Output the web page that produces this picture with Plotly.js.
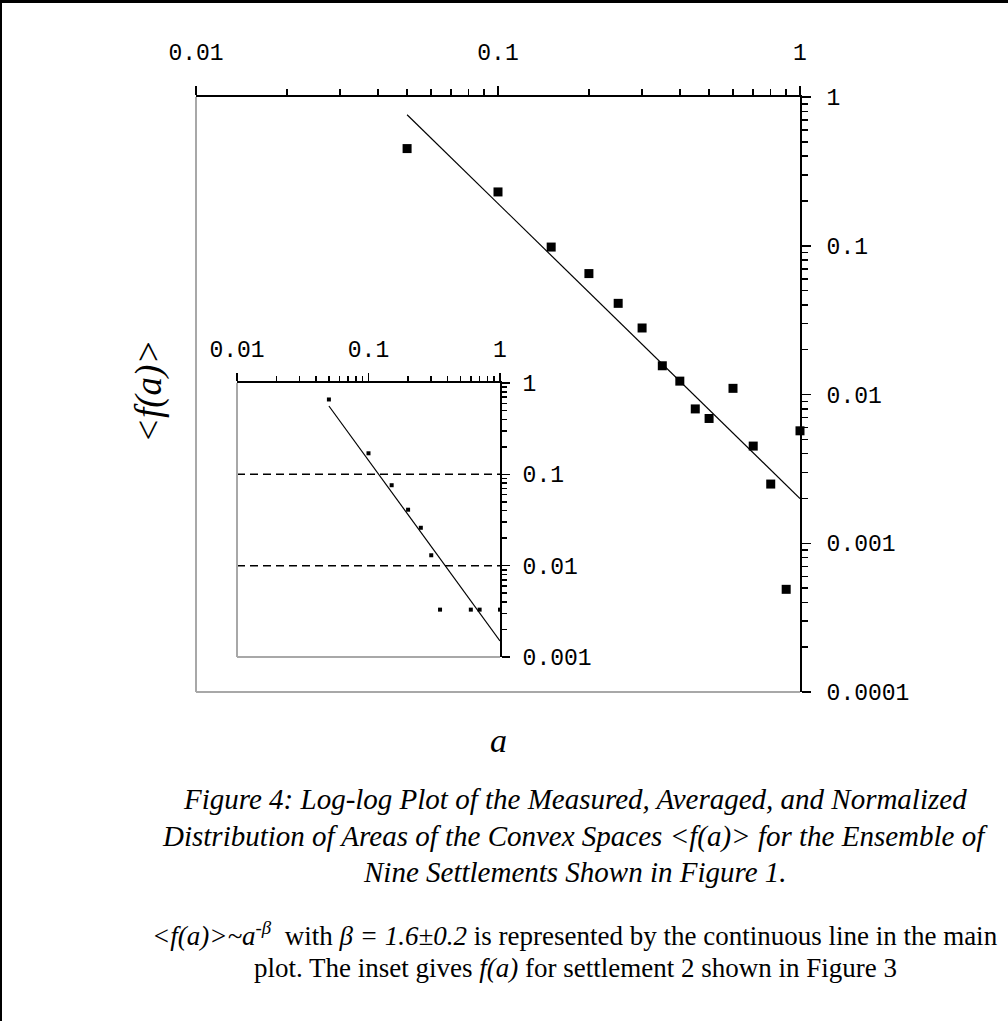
<!DOCTYPE html>
<html><head><meta charset="utf-8">
<script src="https://cdn.plot.ly/plotly-3.0.1.min.js"></script>
<style>
html,body{margin:0;padding:0;background:#fff;}
#wrap{position:relative;width:1008px;height:1021px;overflow:hidden;}
#chart{width:1008px;height:1021px;}
.bt{position:absolute;left:0;top:0;width:1008px;height:3px;background:#000;}
.bl{position:absolute;left:0;top:0;width:2px;height:1021px;background:#000;}
</style></head><body>
<div id="wrap"><div id="chart"></div><div class="bt"></div><div class="bl"></div></div>
<script>
// ---- data ----
const mainA = [0.05, 0.1, 0.15, 0.2, 0.25, 0.3, 0.35, 0.4, 0.45, 0.5, 0.6, 0.7, 0.8, 0.9, 1.0];
const mainF = [0.45, 0.23, 0.098, 0.065, 0.041, 0.028, 0.0156, 0.0123, 0.008, 0.0069, 0.011, 0.0045, 0.0025, 0.00049, 0.0057];
const fitA = [0.05, 1.0];
const fitF = [0.76, 0.002];
const insetA = [0.05, 0.1, 0.15, 0.2, 0.25, 0.3, 0.35, 0.6, 0.7, 1.0];
const insetF = [0.66, 0.17, 0.076, 0.041, 0.026, 0.013, 0.0033, 0.0033, 0.0033, 0.0033];
const insetFitA = [0.05, 1.0];
const insetFitF = [0.56, 0.0015];
const insetRefLevels = [0.1, 0.01];
const xTickVals = [0.01, 0.1, 1];
const xTickText = ['0.01', '0.1', '1'];
const yTickVals = [0.0001, 0.001, 0.01, 0.1, 1];
const yTickText = ['0.0001', '0.001', '0.01', '0.1', '1'];
const insetYTickVals = [0.001, 0.01, 0.1, 1];
const insetYTickText = ['0.001', '0.01', '0.1', '1'];
const xRangeA = [0.01, 1];

// ---- layout helpers ----
const W = 1008, H = 1021;
const px = v => v / W;
const py = v => 1 - v / H;
const tickFont = {family: 'Liberation Mono, DejaVu Sans Mono, monospace', size: 23, color: '#000'};
const serif = 'Liberation Serif, Times New Roman, serif';

function logAxis(extra) {
  return Object.assign({
    type: 'log', showgrid: false, zeroline: false, showline: true,
    linecolor: '#000', linewidth: 2, ticks: 'outside', ticklen: 9, tickwidth: 1.5,
    tickcolor: '#000', tickmode: 'array', tickfont: tickFont, fixedrange: true,
    minor: {ticks: 'outside', ticklen: 6, tickwidth: 1.5, tickcolor: '#000', dtick: 'D1', showgrid: false}
  }, extra);
}

const traces = [
  {x: fitA, y: fitF, mode: 'lines', line: {color: '#000', width: 1.2}, xaxis: 'x', yaxis: 'y', hoverinfo: 'skip'},
  {x: mainA, y: mainF, mode: 'markers', marker: {symbol: 'square', size: 9, color: '#000'}, xaxis: 'x', yaxis: 'y', cliponaxis: false},
  {x: insetFitA, y: insetFitF, mode: 'lines', line: {color: '#000', width: 1.2}, xaxis: 'x2', yaxis: 'y2'},
  {x: insetA, y: insetF, mode: 'markers', marker: {symbol: 'square', size: 4, color: '#000'}, xaxis: 'x2', yaxis: 'y2', cliponaxis: false}
];
insetRefLevels.forEach(lv => {
  traces.push({x: xRangeA, y: [lv, lv], mode: 'lines', line: {color: '#000', width: 1.5, dash: '8px,5px'}, xaxis: 'x2', yaxis: 'y2'});
});

const grayFrame = (xr, yr) => [
  {type: 'line', xref: xr, yref: yr, x0: 0, x1: 0, y0: 0, y1: 1, line: {color: '#a8a8a8', width: 2}},
  {type: 'line', xref: xr, yref: yr, x0: 0, x1: 1, y0: 0, y1: 0, line: {color: '#a8a8a8', width: 2}}
];

const capFont = {family: serif, size: 29, color: '#000'};
const noteFont = {family: serif, size: 27, color: '#000'};
const cx = px(575);
const ann = (text, x, y, font, extra) => Object.assign({text: text, x: x, y: y, xref: 'paper', yref: 'paper',
  xanchor: 'center', yanchor: 'middle', showarrow: false, font: font}, extra || {});
const annotations = [
  ann('<i>&lt;f(a)&gt;</i>', px(149), py(392), {family: serif, size: 37, color: '#000'}, {textangle: -90}),
  ann('<i>a</i>', px(498), py(740), {family: serif, size: 34, color: '#000'}),
  ann('<i>Figure 4: Log-log Plot of the Measured, Averaged, and Normalized</i>', cx, py(799), capFont),
  ann('<i>Distribution of Areas of the Convex Spaces &lt;f(a)&gt; for the Ensemble of</i>', cx, py(836), capFont),
  ann('<i>Nine Settlements Shown in Figure 1.</i>', cx, py(872), capFont),
  ann('<i>&lt;f(a)&gt;~a<sup>-\u03b2</sup></i>\u00a0 with <i>\u03b2 = 1.6\u00b10.2</i> is represented by the continuous line in the main', cx, py(934), noteFont),
  ann('plot. The inset gives <i>f(a)</i> for settlement 2 shown in Figure 3', cx, py(968), noteFont)
];

const layout = {
  width: W, height: H, margin: {l: 0, r: 0, t: 0, b: 0},
  paper_bgcolor: '#fff', plot_bgcolor: 'rgba(0,0,0,0)', showlegend: false,
  xaxis: logAxis({domain: [px(196), px(800)], range: [-2, 0], side: 'top', anchor: 'y',
    tickvals: xTickVals, ticktext: xTickText, ticklabelstandoff: 17}),
  yaxis: logAxis({domain: [py(692), py(97)], range: [-4, 0], side: 'right', anchor: 'x',
    tickvals: yTickVals, ticktext: yTickText, ticklabelstandoff: 11}),
  xaxis2: logAxis({domain: [px(237), px(500)], range: [-2, 0], side: 'top', anchor: 'y2',
    tickvals: xTickVals, ticktext: xTickText, ticklabelstandoff: 7, ticklen: 8,
    minor: {ticks: 'outside', ticklen: 5, tickwidth: 1.5, tickcolor: '#000', dtick: 'D1', showgrid: false}}),
  yaxis2: logAxis({domain: [py(657), py(383)], range: [-3, 0], side: 'right', anchor: 'x2',
    tickvals: insetYTickVals, ticktext: insetYTickText, ticklabelstandoff: 8, ticklen: 8,
    minor: {ticks: 'outside', ticklen: 5, tickwidth: 1.5, tickcolor: '#000', dtick: 'D1', showgrid: false}}),
  shapes: grayFrame('x domain', 'y domain').concat(grayFrame('x2 domain', 'y2 domain')),
  annotations: annotations
};

Plotly.newPlot('chart', traces, layout, {staticPlot: true, displayModeBar: false});
</script>
</body></html>
